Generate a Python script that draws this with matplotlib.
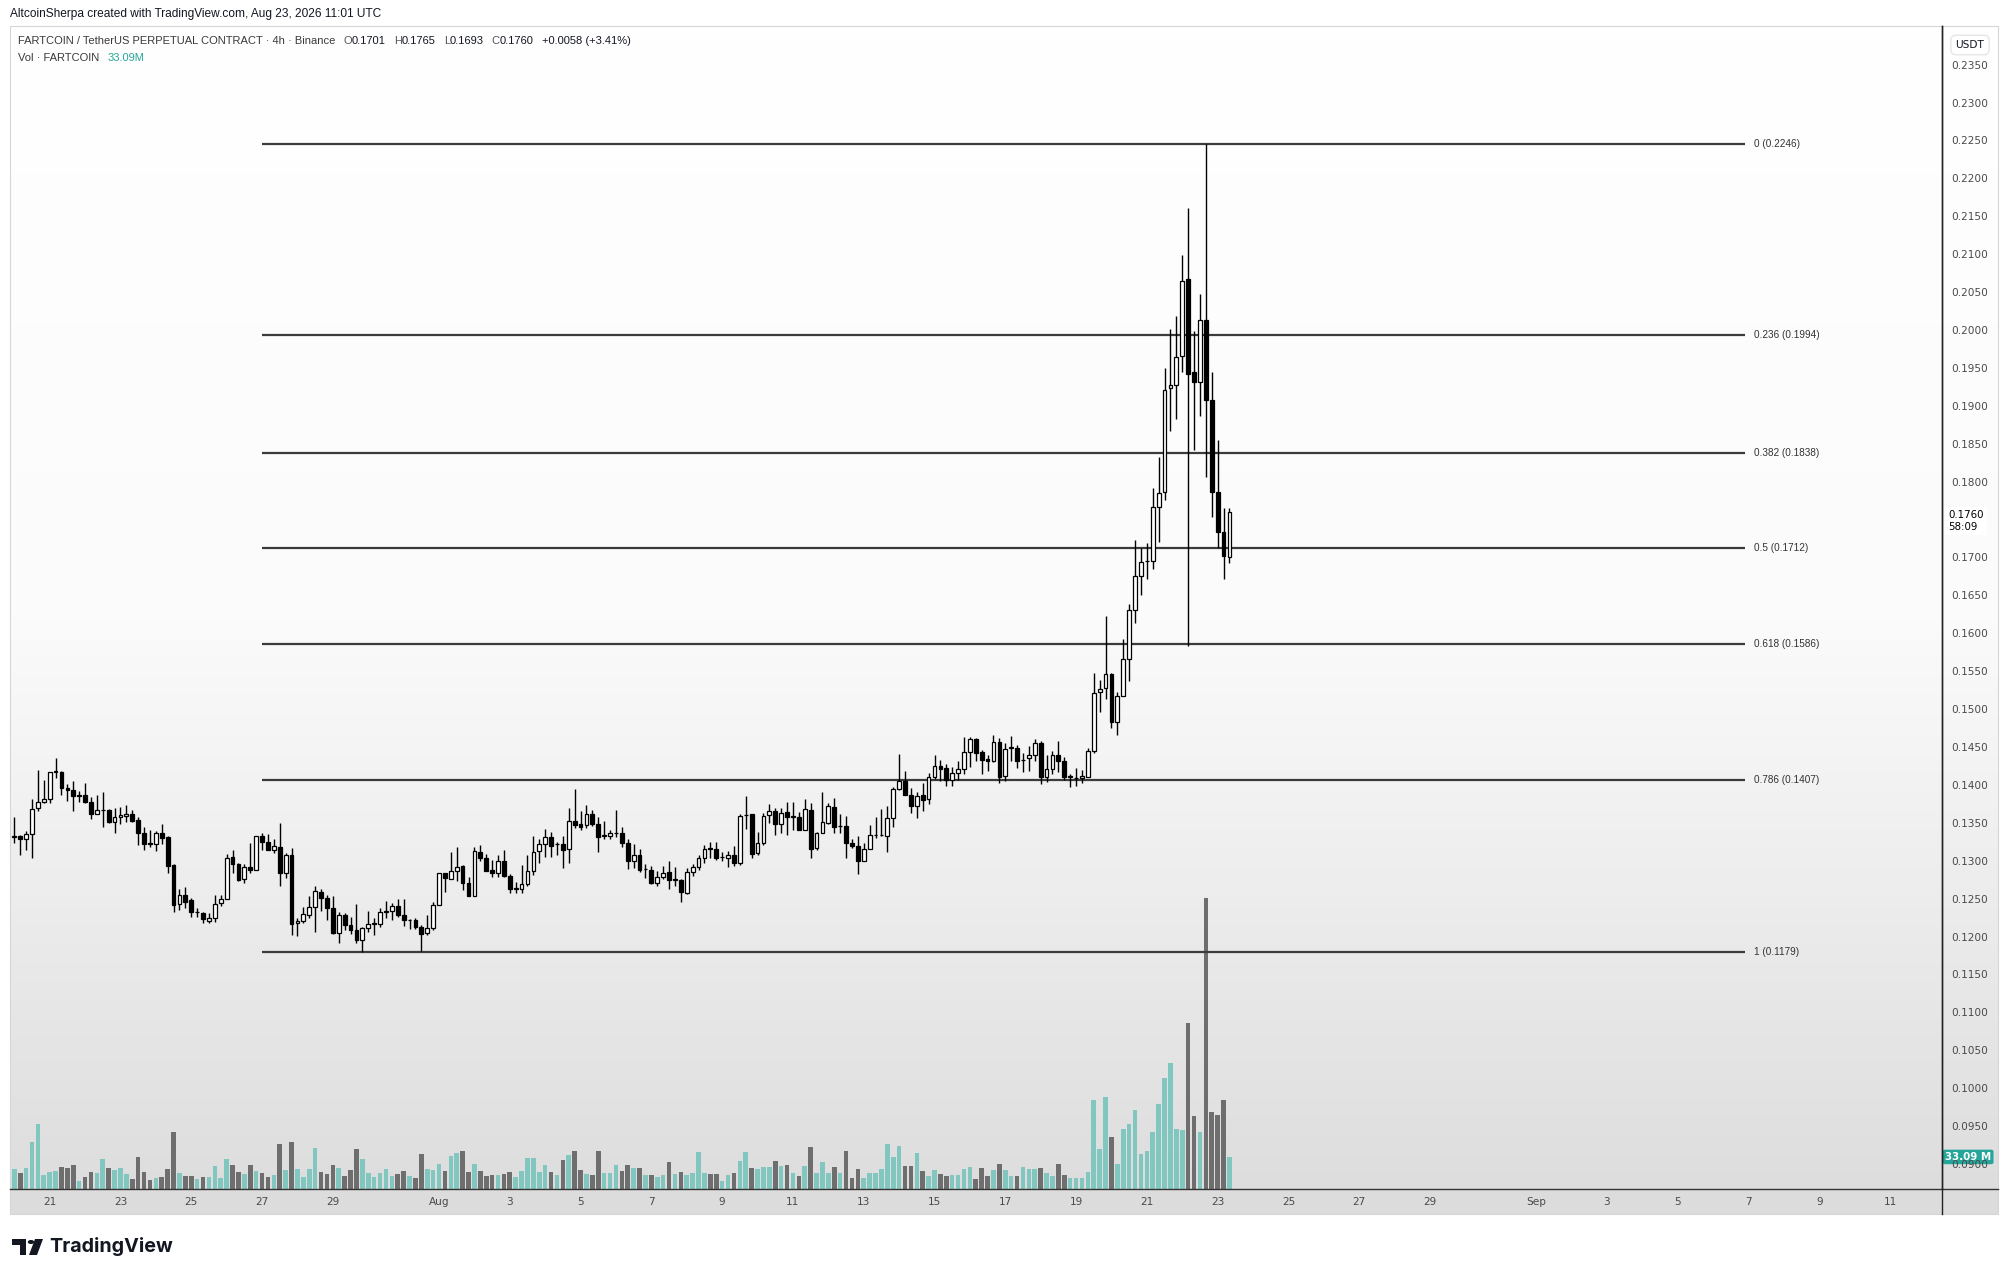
import numpy as np
import pandas as pd
import matplotlib
matplotlib.use("Agg")
import matplotlib.pyplot as plt
from matplotlib.colors import LinearSegmentedColormap
from matplotlib.lines import Line2D
from matplotlib.patches import FancyBboxPatch, Polygon, Circle
from matplotlib.transforms import blended_transform_factory

# FARTCOIN/USDT perp, 4h candles, first candle 2026-07-20 00:00 UTC
start = pd.Timestamp("2026-07-20 00:00")

opens = [
    .1331, .1333, .1329, .1335, .1370, .1377, .1381, .1417, .1417, .1396,
    .1393, .1386, .1387, .1378, .1362, .1367, .1367, .1351, .1358, .1359,
    .1362, .1354, .1337, .1323, .1322, .1337, .1331, .1295, .1243, .1255,
    .1248, .1232, .1231, .1221, .1225, .1244, .1250, .1305, .1296, .1276,
    .1292, .1288, .1332, .1325, .1314, .1318, .1284, .1308, .1218, .1221,
    .1229, .1239, .1259, .1251, .1237, .1205, .1228, .1215, .1209, .1196,
    .1211, .1217, .1217, .1233, .1234, .1240, .1229, .1222, .1222, .1213,
    .1205, .1211, .1242, .1284, .1276, .1287, .1293, .1270, .1254, .1312,
    .1303, .1288, .1284, .1299, .1280, .1263, .1263, .1269, .1287, .1313,
    .1322, .1331, .1322, .1322, .1315, .1353, .1349, .1347, .1361, .1349,
    .1333, .1332, .1336, .1336, .1324, .1299, .1308, .1289, .1288, .1270,
    .1278, .1285, .1275, .1275, .1258, .1285, .1292, .1303, .1317, .1315,
    .1305, .1303, .1308, .1297, .1360, .1361, .1310, .1323, .1360, .1365,
    .1349, .1364, .1358, .1358, .1340, .1367, .1317, .1336, .1350, .1371,
    .1346, .1346, .1324, .1320, .1300, .1316, .1334, .1334, .1333, .1357,
    .1394, .1405, .1387, .1372, .1387, .1381, .1410, .1425, .1422, .1406,
    .1416, .1421, .1443, .1460, .1443, .1434, .1431, .1457, .1412, .1449,
    .1449, .1433, .1435, .1439, .1455, .1410, .1421, .1439, .1432, .1411,
    .1409, .1409, .1411, .1445, .1522, .1528, .1546, .1483, .1517, .1566,
    .1631, .1675, .1695, .1695, .1767, .1786, .1923, .1927, .1966, .2067,
    .1944, .1932, .2013, .1908, .1786, .1733, .1701,
]
highs = [
    .1358, .1334, .1339, .1381, .1420, .1407, .1417, .1436, .1418, .1401,
    .1405, .1392, .1403, .1384, .1387, .1391, .1368, .1370, .1371, .1373,
    .1367, .1358, .1345, .1341, .1339, .1349, .1332, .1296, .1263, .1265,
    .1251, .1238, .1232, .1231, .1255, .1255, .1309, .1314, .1297, .1296,
    .1323, .1333, .1337, .1335, .1329, .1350, .1310, .1317, .1225, .1239,
    .1253, .1267, .1263, .1255, .1254, .1233, .1231, .1226, .1243, .1212,
    .1234, .1225, .1237, .1247, .1244, .1250, .1250, .1223, .1225, .1215,
    .1228, .1246, .1284, .1284, .1312, .1318, .1295, .1279, .1318, .1321,
    .1309, .1301, .1308, .1314, .1283, .1272, .1294, .1307, .1332, .1328,
    .1342, .1338, .1325, .1332, .1370, .1394, .1366, .1374, .1367, .1358,
    .1352, .1341, .1367, .1344, .1328, .1322, .1316, .1296, .1293, .1287,
    .1293, .1300, .1292, .1276, .1290, .1296, .1307, .1321, .1325, .1325,
    .1312, .1313, .1319, .1362, .1386, .1361, .1338, .1363, .1375, .1370,
    .1369, .1378, .1377, .1364, .1382, .1376, .1338, .1391, .1376, .1383,
    .1362, .1359, .1328, .1333, .1323, .1347, .1358, .1368, .1372, .1397,
    .1441, .1419, .1396, .1391, .1402, .1416, .1440, .1433, .1427, .1424,
    .1432, .1463, .1463, .1462, .1446, .1440, .1466, .1462, .1455, .1465,
    .1453, .1442, .1451, .1460, .1458, .1439, .1445, .1458, .1437, .1415,
    .1422, .1420, .1449, .1548, .1538, .1623, .1548, .1522, .1592, .1639,
    .1723, .1712, .1719, .1792, .1833, .1950, .2001, .2018, .2099, .2161,
    .1999, .2048, .2246, .1944, .1855, .1765, .1765,
]
lows = [
    .1324, .1307, .1314, .1303, .1365, .1376, .1376, .1409, .1387, .1379,
    .1365, .1378, .1376, .1355, .1361, .1345, .1350, .1337, .1348, .1351,
    .1351, .1321, .1314, .1318, .1313, .1322, .1284, .1233, .1235, .1238,
    .1226, .1226, .1218, .1218, .1219, .1240, .1250, .1284, .1273, .1271,
    .1284, .1288, .1314, .1314, .1310, .1266, .1277, .1202, .1201, .1218,
    .1225, .1206, .1234, .1222, .1203, .1191, .1209, .1203, .1191, .1179,
    .1206, .1202, .1213, .1225, .1222, .1226, .1214, .1210, .1210, .1181,
    .1202, .1209, .1241, .1259, .1276, .1273, .1262, .1254, .1254, .1300,
    .1286, .1279, .1279, .1279, .1258, .1257, .1258, .1266, .1281, .1297,
    .1305, .1305, .1308, .1291, .1297, .1343, .1341, .1343, .1346, .1312,
    .1328, .1328, .1331, .1318, .1289, .1291, .1285, .1277, .1269, .1267,
    .1276, .1263, .1267, .1246, .1256, .1280, .1288, .1297, .1303, .1301,
    .1299, .1292, .1293, .1294, .1342, .1303, .1307, .1321, .1350, .1334,
    .1337, .1334, .1341, .1340, .1340, .1304, .1314, .1336, .1349, .1337,
    .1337, .1304, .1317, .1283, .1300, .1316, .1330, .1332, .1312, .1345,
    .1393, .1387, .1363, .1356, .1365, .1375, .1408, .1405, .1399, .1398,
    .1406, .1414, .1424, .1432, .1414, .1419, .1430, .1402, .1405, .1432,
    .1422, .1417, .1418, .1431, .1401, .1404, .1415, .1417, .1407, .1397,
    .1398, .1402, .1411, .1442, .1496, .1513, .1475, .1466, .1517, .1537,
    .1613, .1651, .1672, .1685, .1720, .1776, .1867, .1882, .1944, .1583,
    .1842, .1887, .1806, .1754, .1713, .1672, .1693,
]
closes = [
    .1333, .1329, .1335, .1368, .1378, .1381, .1417, .1418, .1396, .1393,
    .1386, .1387, .1378, .1362, .1367, .1367, .1351, .1358, .1360, .1362,
    .1353, .1337, .1322, .1322, .1337, .1330, .1293, .1242, .1255, .1246,
    .1233, .1232, .1223, .1225, .1243, .1250, .1303, .1296, .1274, .1292,
    .1288, .1332, .1325, .1314, .1319, .1284, .1307, .1217, .1221, .1230,
    .1239, .1260, .1251, .1237, .1205, .1228, .1215, .1209, .1196, .1211,
    .1217, .1218, .1232, .1233, .1240, .1228, .1222, .1222, .1213, .1204,
    .1211, .1242, .1284, .1277, .1287, .1292, .1270, .1254, .1313, .1303,
    .1287, .1284, .1299, .1280, .1263, .1263, .1269, .1286, .1312, .1322,
    .1331, .1320, .1322, .1314, .1353, .1347, .1345, .1361, .1348, .1331,
    .1333, .1336, .1336, .1324, .1299, .1308, .1288, .1289, .1270, .1278,
    .1284, .1275, .1275, .1259, .1285, .1292, .1303, .1316, .1315, .1304,
    .1305, .1308, .1297, .1359, .1360, .1309, .1323, .1359, .1365, .1348,
    .1363, .1358, .1358, .1340, .1368, .1316, .1336, .1351, .1372, .1345,
    .1346, .1324, .1320, .1300, .1316, .1334, .1334, .1334, .1357, .1394,
    .1405, .1387, .1372, .1386, .1380, .1410, .1425, .1421, .1406, .1416,
    .1421, .1444, .1461, .1442, .1433, .1431, .1457, .1411, .1448, .1449,
    .1432, .1433, .1439, .1455, .1411, .1421, .1439, .1432, .1411, .1411,
    .1409, .1412, .1445, .1521, .1527, .1546, .1483, .1517, .1566, .1631,
    .1675, .1694, .1695, .1767, .1785, .1921, .1927, .1964, .2065, .1942,
    .1932, .2013, .1908, .1786, .1733, .1702, .1760,
]
# volume in millions of FARTCOIN
volumes = [
    21, 17, 22, 48, 67, 14, 18, 19, 23, 22,
    25, 8, 12, 18, 16, 31, 22, 20, 22, 15,
    10, 33, 18, 9, 11, 12, 21, 59, 17, 13,
    13, 10, 12, 12, 24, 11, 31, 25, 18, 15,
    25, 19, 17, 12, 14, 46, 20, 48, 21, 12,
    21, 42, 18, 15, 25, 22, 13, 20, 41, 31,
    16, 12, 16, 21, 13, 15, 19, 13, 11, 36,
    21, 20, 26, 19, 34, 37, 39, 18, 26, 19,
    13, 14, 14, 15, 18, 12, 19, 32, 32, 18,
    25, 18, 14, 30, 35, 39, 20, 15, 14, 39,
    17, 16, 25, 19, 25, 22, 22, 14, 14, 12,
    14, 28, 15, 18, 14, 16, 38, 17, 15, 15,
    8, 14, 16, 29, 38, 22, 21, 23, 23, 29,
    24, 25, 16, 13, 24, 43, 17, 28, 16, 23,
    16, 39, 11, 21, 11, 17, 16, 21, 46, 33,
    44, 24, 24, 37, 19, 13, 20, 15, 13, 14,
    14, 21, 23, 10, 22, 13, 20, 26, 20, 13,
    13, 23, 21, 21, 22, 16, 13, 26, 14, 11,
    11, 11, 18, 92, 41, 95, 54, 26, 62, 67,
    82, 36, 39, 59, 88, 115, 130, 62, 61, 171,
    75, 59, 300, 79, 76, 92, 33.09,
]

fib_levels = ["0", "0.236", "0.382", "0.5", "0.618", "0.786", "1"]
fib_prices = [0.2246, 0.1994, 0.1838, 0.1712, 0.1586, 0.1407, 0.1179]
fib_from = pd.Timestamp("2026-07-27 00:00")

date_ticks = ["2026-07-21", "2026-07-23", "2026-07-25", "2026-07-27", "2026-07-29",
              "2026-08-01", "2026-08-03", "2026-08-05", "2026-08-07", "2026-08-09",
              "2026-08-11", "2026-08-13", "2026-08-15", "2026-08-17", "2026-08-19",
              "2026-08-21", "2026-08-23", "2026-08-25", "2026-08-27", "2026-08-29",
              "2026-09-01", "2026-09-03", "2026-09-05", "2026-09-07", "2026-09-09",
              "2026-09-11"]
date_labels = ["21", "23", "25", "27", "29", "Aug", "3", "5", "7", "9", "11", "13", "15",
               "17", "19", "21", "23", "25", "27", "29", "Sep", "3", "5", "7", "9", "11"]

last_price = 0.1760
countdown = "58:09"

o = np.array(opens)
h = np.array(highs)
l = np.array(lows)
c = np.array(closes)
v = np.array(volumes)
x = np.arange(len(c))
up = c >= o

def bar_pos(ts):
    return (pd.Timestamp(ts) - start) / pd.Timedelta(hours=4)

W, H = 2009, 1277
fig = plt.figure(figsize=(W / 100, H / 100), dpi=100)
fig.patch.set_facecolor("white")

def fx(px):
    return px / W

def fy(py):
    return 1 - py / H

TXT = "#131722"
AX_TXT = "#4a4a4a"

# panel / plot area in pixels
P_L, P_R, P_T, P_B = 10, 1998, 26, 1214
A_R, A_B = 1942, 1189

bg = fig.add_axes([fx(P_L), fy(P_B), (P_R - P_L) / W, (P_B - P_T) / H])
grad = np.linspace(0, 1, 256).reshape(-1, 1)
cmap = LinearSegmentedColormap.from_list("bg", ["#ffffff", "#fbfbfb", "#dcdcdc"])
bg.imshow(grad, aspect="auto", cmap=cmap, extent=[0, 1, 0, 1])
bg.set_axis_off()
bg.set_zorder(0)

rect = [fx(P_L), fy(A_B), (A_R - P_L) / W, (A_B - P_T) / H]
axv = fig.add_axes(rect)
axv.set_zorder(1)
axv.patch.set_visible(False)
ax = fig.add_axes(rect, sharex=axv)
ax.set_zorder(2)
ax.patch.set_visible(False)

# volume
axv.bar(x, v, width=0.78, color=np.where(up, "#82c7bf", "#6e6e6e"), linewidth=0)
axv.set_ylim(0, 1200)
axv.set_axis_off()

# candles
ax.vlines(x, l, h, color="black", lw=1.0, zorder=3)
body_lo = np.minimum(o, c)
body_h = np.maximum(np.abs(c - o), 0.00004)
ax.bar(x, body_h, bottom=body_lo, width=0.64, color=np.where(up, "white", "black"),
       edgecolor="black", linewidth=0.9, zorder=4)

ax.set_xlim(-0.73, 326.8)
ax.set_ylim(0.0867, 0.2401)

# last price dotted line (from last candle to the scale)
ax.hlines(last_price, x[-1], 326.8, color="white", lw=1.3, ls=(0, (1, 1.5)), zorder=1)

# fib retracement
fx0 = bar_pos(fib_from)
fx1 = 293.4
for lev, pr in zip(fib_levels, fib_prices):
    ax.hlines(pr, fx0, fx1, color="#3b3b3b", lw=1.6, zorder=2)
    ax.text(fx1 + 1.6, pr, f"{lev} ({pr:.4f})", fontsize=7.2, color="#333333",
            va="center", ha="left", family="Liberation Sans")

# axes styling
for s in ["top", "left", "bottom"]:
    ax.spines[s].set_visible(False)
ax.spines["right"].set_color("#222222")
ax.spines["right"].set_linewidth(1.0)
ax.yaxis.tick_right()
yt = np.round(np.arange(0.09, 0.2351, 0.005), 4)
ax.set_yticks(yt)
# the 0.1750 label sits under the last-price tag
ax.set_yticklabels(["" if abs(t - 0.175) < 1e-6 else f"{t:.4f}" for t in yt])
ax.tick_params(axis="y", length=0, pad=6.5, labelsize=7.6, labelcolor=AX_TXT)
ax.set_xticks([bar_pos(d) for d in date_ticks])
ax.set_xticklabels(date_labels)
ax.tick_params(axis="x", length=0, pad=6, labelsize=7.6, labelcolor=AX_TXT)

# axis frame lines
fig.add_artist(Line2D([fx(P_L), fx(P_R)], [fy(A_B), fy(A_B)], color="#333333", lw=1.0))
fig.add_artist(Line2D([fx(A_R), fx(A_R)], [fy(P_T), fy(P_B)], color="#222222", lw=1.0))
fig.add_artist(FancyBboxPatch((fx(P_L), fy(P_B)), (P_R - P_L) / W, (P_B - P_T) / H,
                              boxstyle="square,pad=0", fill=False, ec="#d6d6d6", lw=0.8))

# right-side labels
tr = blended_transform_factory(ax.transAxes, ax.transData)
ax.text(1.0 + 6 / (A_R - P_L), last_price + 0.0002, f"{last_price:.4f}\n{countdown}",
        transform=tr, fontsize=7.4, color="black", va="top", ha="left", linespacing=1.2,
        bbox=dict(boxstyle="square,pad=0.3", fc="white", ec="none"), clip_on=False)
trv = blended_transform_factory(axv.transAxes, axv.transData)
axv.text(1.0 + 3 / (A_R - P_L), v[-1], f"{v[-1]:.2f} M", transform=trv, fontsize=7.4,
         color="white", va="center", ha="left", fontweight="bold",
         bbox=dict(boxstyle="round,pad=0.22,rounding_size=0.2", fc="#26a69a", ec="none"),
         clip_on=False)
fig.text(fx(1970), fy(45), "USDT", fontsize=7.6, color=TXT, ha="center", va="center",
         bbox=dict(boxstyle="round,pad=0.45,rounding_size=0.5", fc="white", ec="#e6e6e6"))

# header texts
fig.text(fx(10), fy(14), "AltcoinSherpa created with TradingView.com, Aug 23, 2026 11:01 UTC",
         fontsize=8.6, color=TXT, va="center", ha="left", family="Liberation Sans")
hdr = "FARTCOIN / TetherUS PERPETUAL CONTRACT · 4h · Binance"
t1 = fig.text(fx(18), fy(41), hdr, fontsize=8.0, color="#3a3a3a", va="center", ha="left",
              family="Liberation Sans")
fig.canvas.draw()
r = fig.canvas.get_renderer()
xpos = t1.get_window_extent(r).x1 + 8
ohlc = [("O", f"{o[-1]:.4f}"), ("H", f"{h[-1]:.4f}"), ("L", f"{l[-1]:.4f}"),
        ("C", f"{c[-1]:.4f}")]
for lab, val in ohlc:
    ta = fig.text(xpos / W, fy(41), lab, fontsize=8.0, color="#555555", va="center",
                  ha="left", family="Liberation Sans")
    xpos = ta.get_window_extent(r).x1
    tb = fig.text(xpos / W, fy(41), val, fontsize=8.0, color=TXT, va="center", ha="left",
                  family="Liberation Sans")
    xpos = tb.get_window_extent(r).x1 + 8
chg = c[-1] - c[-2]
fig.text(xpos / W, fy(41), f"+{chg:.4f} (+3.41%)", fontsize=8.0, color=TXT, va="center",
         ha="left", family="Liberation Sans")
t2 = fig.text(fx(18), fy(58), "Vol · FARTCOIN", fontsize=8.0, color="#3a3a3a",
              va="center", ha="left", family="Liberation Sans")
fig.canvas.draw()
fig.text((t2.get_window_extent(r).x1 + 8) / W, fy(58), f"{v[-1]:.2f}M", fontsize=8.0,
         color="#26a69a", va="center", ha="left", family="Liberation Sans")

# TradingView logo
fig.add_artist(Polygon([(fx(12), fy(1239)), (fx(26), fy(1239)), (fx(26), fy(1255)),
                        (fx(20), fy(1255)), (fx(20), fy(1245)), (fx(12), fy(1245))],
                       closed=True, fc="#131722", ec="none"))
fig.add_artist(Circle((fx(31), fy(1242)), 3.2 / W, fc="#131722", ec="none"))
fig.add_artist(Polygon([(fx(35), fy(1239)), (fx(43), fy(1239)), (fx(37), fy(1255)),
                        (fx(29), fy(1255))], closed=True, fc="#131722", ec="none"))
fig.text(fx(49), fy(1247), "TradingView", fontsize=14.2, fontweight="bold", color="#131722",
         va="center", ha="left", family="Inter")

fig.savefig("out.png", dpi=100, facecolor="white")
